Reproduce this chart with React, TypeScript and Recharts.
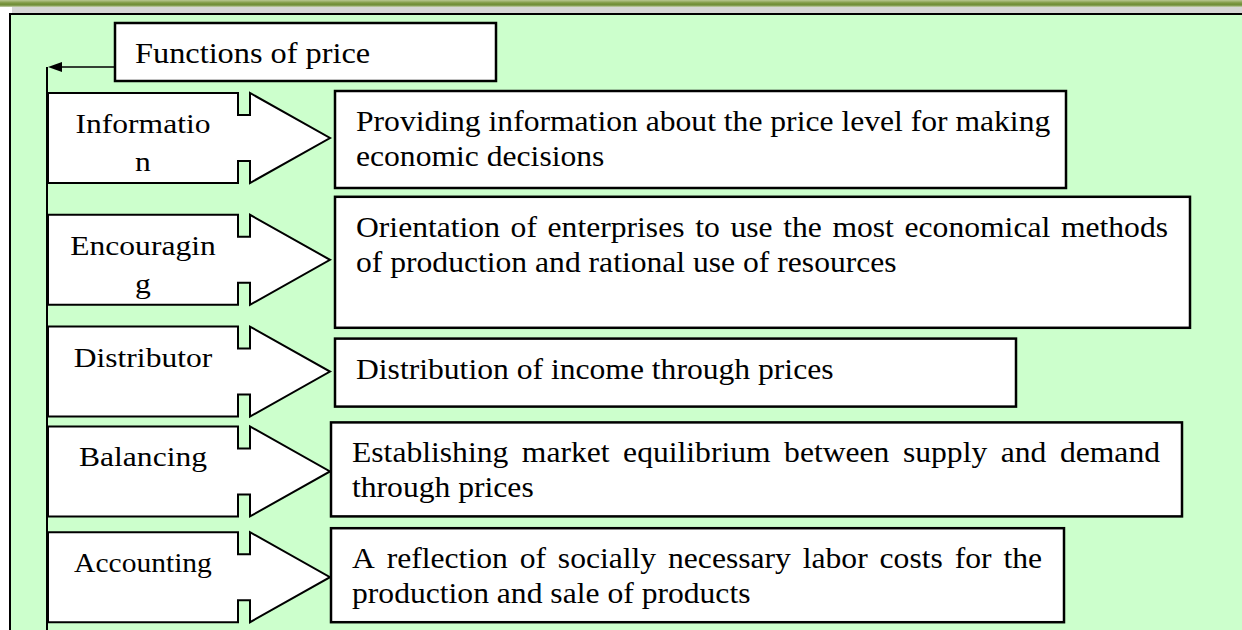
import { BarChart, Bar, XAxis, YAxis } from 'recharts';

// content of the scheme
const TITLE = 'Functions of price';
const FUNCTIONS = ['Information', 'Encouraging', 'Distributor', 'Balancing', 'Accounting'];
const LABEL_LINES = [['Informatio', 'n'], ['Encouragin', 'g'], ['Distributor'], ['Balancing'], ['Accounting']];
const DESCRIPTION_LINES = [
  ['Providing information about the price level for making', 'economic decisions'],
  ['Orientation of enterprises to use the most economical methods', 'of production and rational use of resources'],
  ['Distribution of income through prices'],
  ['Establishing market equilibrium between supply and demand', 'through prices'],
  ['A reflection of socially necessary labor costs for the', 'production and sale of products'],
];
const JUSTIFIED = [false, true, false, true, true];

// layout of the boxes (px on the x axis, which maps 1:1 to the page)
const BOX_LEFT = [335, 335, 335, 331, 331];
const BOX_RIGHT = [1066, 1190, 1016, 1182, 1064];
const BOX_EXTEND_TOP = [2, 18, -12, 4, 4];
const BOX_EXTEND_BOTTOM = [5, 23, -10, 0, 0];
const ROW_NUDGE = [-8, 5, 8, -1, -4];
const LABEL_SIZE = [28.3, 28.3, 28.3, 28.3, 26.5];

const ARROW_LEFT = 48;
const NOTCH_X = 238;
const HEAD_X = 250;
const TIP_X = 330;
const NOTCH_DEPTH = 22;
const LABEL_X = 143;

const FONT_SIZE = 29;
const DESC_SX = 1.09; // the scan is a bit stretched horizontally
const LABEL_SX = 1.115;
const FONT_FAMILY = "'Liberation Serif', 'Times New Roman', serif";

const rows = FUNCTIONS.map((name, i) => ({
  name,
  label: LABEL_LINES[i],
  lines: DESCRIPTION_LINES[i],
  justified: JUSTIFIED[i],
  extent: [BOX_LEFT[i], BOX_RIGHT[i]],
}));

let ctx: CanvasRenderingContext2D | null = null;
function textWidth(s: string) {
  if (!ctx) ctx = document.createElement('canvas').getContext('2d');
  if (!ctx) return s.length * FONT_SIZE * 0.45 * DESC_SX;
  ctx.font = `${FONT_SIZE}px 'Liberation Serif'`;
  return ctx.measureText(s).width * DESC_SX;
}

function SText({ x, y, size = FONT_SIZE, sx = DESC_SX, anchor = 'start', children }: any) {
  return (
    <text
      transform={`translate(${x},${y}) scale(${sx},1)`}
      textAnchor={anchor}
      fontSize={size}
      fontFamily={FONT_FAMILY}
      fill="#000"
    >
      {children}
    </text>
  );
}

function JustifiedLine({ text, x, y, width }: { text: string; x: number; y: number; width: number }) {
  const words = text.split(' ');
  const widths = words.map(textWidth);
  const total = widths.reduce((a, b) => a + b, 0);
  const gap = words.length > 1 ? (width - total) / (words.length - 1) : 0;
  let cx = x;
  return (
    <g>
      {words.map((w, k) => {
        const wx = cx;
        cx += widths[k] + gap;
        return (
          <SText key={k} x={wx} y={y}>
            {w}
          </SText>
        );
      })}
    </g>
  );
}

// one row: notched block arrow with the function name + the description box
function FunctionRow(props: any) {
  const { x, width, y, height, index, payload } = props;
  const top = y + ROW_NUDGE[index];
  const bot = top + height;
  const cy = top + height / 2;
  const arrow = [
    `M${ARROW_LEFT},${top}`,
    `L${NOTCH_X},${top}`,
    `L${NOTCH_X},${top + NOTCH_DEPTH}`,
    `L${HEAD_X},${top + NOTCH_DEPTH}`,
    `L${HEAD_X},${top}`,
    `L${TIP_X},${cy}`,
    `L${HEAD_X},${bot}`,
    `L${HEAD_X},${bot - NOTCH_DEPTH}`,
    `L${NOTCH_X},${bot - NOTCH_DEPTH}`,
    `L${NOTCH_X},${bot}`,
    `L${ARROW_LEFT},${bot}`,
    'Z',
  ].join(' ');

  const boxTop = top - BOX_EXTEND_TOP[index];
  const boxBot = bot + BOX_EXTEND_BOTTOM[index];
  const textX = x + 21;
  const textW = width - 43;

  return (
    <g>
      <path d={arrow} fill="#fff" stroke="#000" strokeWidth={2} strokeLinejoin="miter" />
      {payload.label.map((l: string, k: number) => (
        <SText key={k} x={LABEL_X} y={top + 40 + k * 38} size={LABEL_SIZE[index]} sx={LABEL_SX} anchor="middle">
          {l}
        </SText>
      ))}
      <rect x={x} y={boxTop} width={width} height={boxBot - boxTop} fill="#fff" stroke="#000" strokeWidth={2.5} />
      {payload.lines.map((l: string, k: number) => {
        const ly = boxTop + 40 + k * 35;
        if (payload.justified && k < payload.lines.length - 1) {
          return <JustifiedLine key={k} text={l} x={textX} y={ly} width={textW} />;
        }
        return (
          <SText key={k} x={textX} y={ly}>
            {l}
          </SText>
        );
      })}
    </g>
  );
}

function TitleConnector() {
  return (
    <g>
      <line x1={47} y1={67} x2={47} y2={640} stroke="#000" strokeWidth={2} />
      <line x1={60} y1={67} x2={115} y2={67} stroke="#000" strokeWidth={1.5} />
      <polygon points="48,67 62,62 62,72" fill="#000" />
      <rect x={115} y={23} width={381} height={58} fill="#fff" stroke="#000" strokeWidth={2.5} />
      <SText x={135} y={63} sx={LABEL_SX}>
        {TITLE}
      </SText>
    </g>
  );
}

export default function App() {
  return (
    <div style={{ position: 'relative', width: 1242, height: 630, overflow: 'hidden', background: '#fff' }}>
      <style>{'body{margin:0}'}</style>
      <div
        style={{
          position: 'absolute',
          left: 0,
          top: 0,
          width: 1242,
          height: 7,
          background: 'linear-gradient(#b9c792 0px, #7d9842 3px, #6e8c35 5px, #c8d2b0 7px)',
        }}
      />
      <div style={{ position: 'absolute', left: 12, top: 7, width: 1230, height: 6, background: '#d6d6d6' }} />
      <div
        style={{
          position: 'absolute',
          left: 9,
          top: 13,
          right: 0,
          bottom: 0,
          borderLeft: '2px solid #000',
          borderTop: '2px solid #000',
          background: '#ccffcc',
        }}
      />
      <div style={{ position: 'absolute', left: 0, top: 0 }}>
        <BarChart
          width={1242}
          height={640}
          data={rows}
          layout="vertical"
          margin={{ top: 92, right: 0, bottom: 4, left: 0 }}
        >
          <XAxis type="number" domain={[0, 1242]} hide />
          <YAxis type="category" dataKey="name" hide />
          <TitleConnector />
          <Bar dataKey="extent" barSize={90} isAnimationActive={false} shape={(p: any) => <FunctionRow {...p} />} />
        </BarChart>
      </div>
    </div>
  );
}
